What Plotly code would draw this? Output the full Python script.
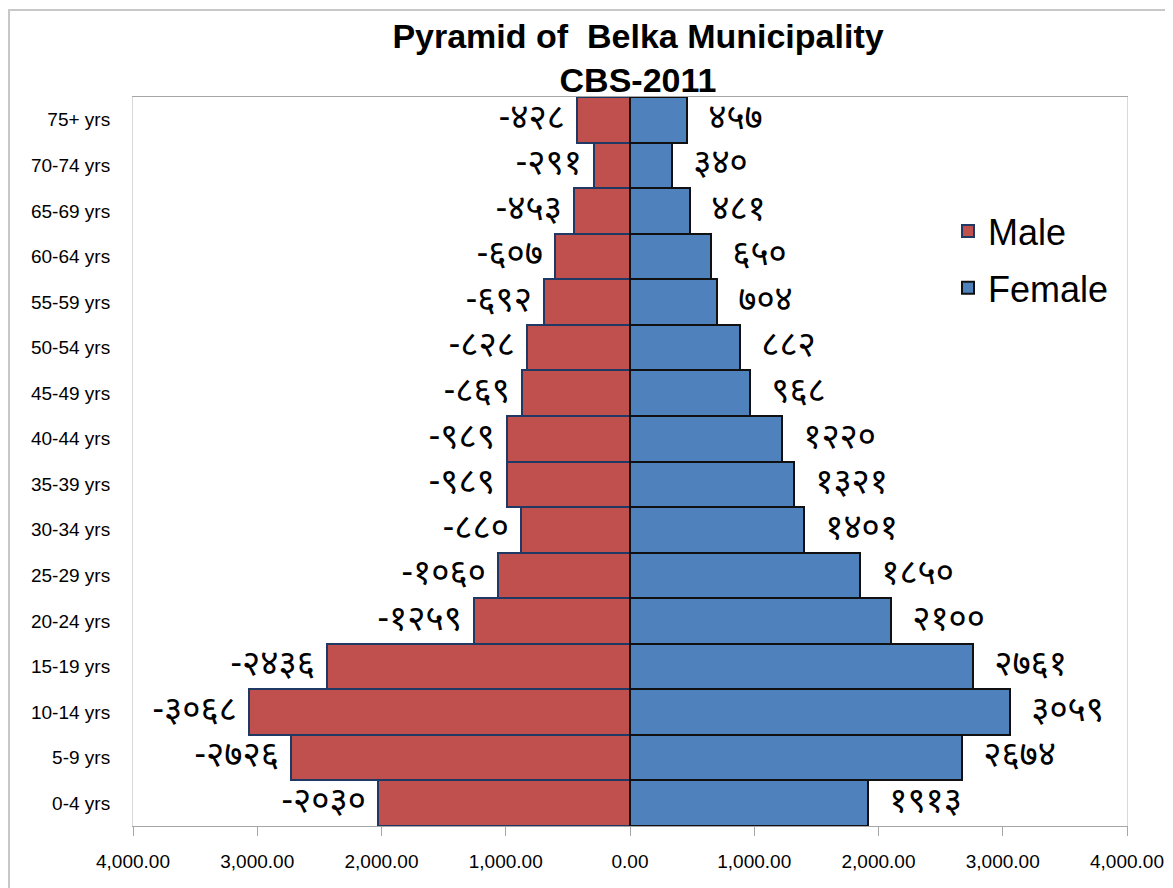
import plotly.graph_objects as go

age_groups = ["0-4 yrs", "5-9 yrs", "10-14 yrs", "15-19 yrs", "20-24 yrs", "25-29 yrs",
              "30-34 yrs", "35-39 yrs", "40-44 yrs", "45-49 yrs", "50-54 yrs", "55-59 yrs",
              "60-64 yrs", "65-69 yrs", "70-74 yrs", "75+ yrs"]
male = [2030, 2726, 3068, 2436, 1259, 1060, 880, 989, 989, 869, 828, 692, 607, 453, 291, 428]
female = [1913, 2674, 3059, 2761, 2100, 1850, 1401, 1321, 1220, 968, 882, 704, 650, 481, 340, 457]
tick_vals = [-4000, -3000, -2000, -1000, 0, 1000, 2000, 3000, 4000]
tick_text = ["4,000.00", "3,000.00", "2,000.00", "1,000.00", "0.00",
             "1,000.00", "2,000.00", "3,000.00", "4,000.00"]

DEV = str.maketrans("0123456789", "०१२३४५६७८९")
def dev(n):
    return str(n).translate(DEV)

male_neg = [-v for v in male]
male_txt = ["-" + dev(v) + "\u00a0" for v in male]
female_txt = ["\u00a0\u00a0" + dev(v) for v in female]

label_font = dict(family="Noto Sans Devanagari, Lohit Devanagari, Noto Sans, sans-serif",
                  size=35, color="black")

# page offset of the plot div is ~8px; layout below is in figure pixels
L, T, R, B = 125, 89, 54, 70
W, H = 1173, 888
PW, PH = W - L - R, H - T - B

fig = go.Figure()
fig.add_trace(go.Bar(
    y=age_groups, x=male_neg, orientation="h", name="Male", legendgroup="m",
    marker=dict(color="#C0504D", line=dict(color="#1F3864", width=2)),
    text=male_txt, textposition="outside", textfont=label_font,
    cliponaxis=False,
))
fig.add_trace(go.Bar(
    y=age_groups, x=female, orientation="h", name="Female", legendgroup="f",
    marker=dict(color="#4F81BD", line=dict(color="#111111", width=2)),
    text=female_txt, textposition="outside", textfont=label_font,
    cliponaxis=False,
))

fig.update_layout(
    width=W, height=H,
    barmode="relative", bargap=0,
    paper_bgcolor="white", plot_bgcolor="white",
    margin=dict(l=L, r=R, t=T, b=B),
    title=dict(
        text="Pyramid of  Belka Municipality<br>CBS-2011",
        font=dict(family="Liberation Sans, Arial", size=34, color="black", weight="bold"),
        x=(630 - L) / PW, xanchor="center", xref="paper",
        y=1 - 40 / H, yanchor="middle", yref="container",
    ),
    legend=dict(
        x=(940 - L) / PW, y=(818 - 193) / PH, xref="paper", yref="paper",
        xanchor="left", yanchor="top",
        font=dict(family="Liberation Sans, Arial", size=36, color="black"),
        bgcolor="rgba(0,0,0,0)", traceorder="grouped", tracegroupgap=7,
        itemsizing="constant",
    ),
    uniformtext=dict(mode=False),
)

fig.update_xaxes(
    range=[-4000, 4000], tickvals=tick_vals, ticktext=tick_text,
    showgrid=False, zeroline=False,
    showline=True, linecolor="#A6A6A6", linewidth=1, mirror=True,
    ticks="outside", ticklen=9, tickcolor="#A6A6A6",
    tickfont=dict(family="Liberation Sans, Arial", size=19, color="black"),
    ticklabelstandoff=9,
)
fig.update_yaxes(
    categoryorder="array", categoryarray=age_groups,
    showgrid=False, zeroline=False,
    showline=True, linecolor="#D9D9D9", linewidth=1, mirror=True,
    ticks="",
    tickfont=dict(family="Liberation Sans, Arial", size=19, color="black"),
    ticklabelstandoff=18,
)

fig.add_shape(type="rect", xref="paper", yref="paper",
              x0=(1 - L) / PW, x1=(W + 20 - L) / PW,
              y0=(818 - H - 20) / PH, y1=(818 - 2) / PH,
              line=dict(color="#C8C8C8", width=2), fillcolor="rgba(0,0,0,0)", layer="below")

fig.write_html("out.html")
